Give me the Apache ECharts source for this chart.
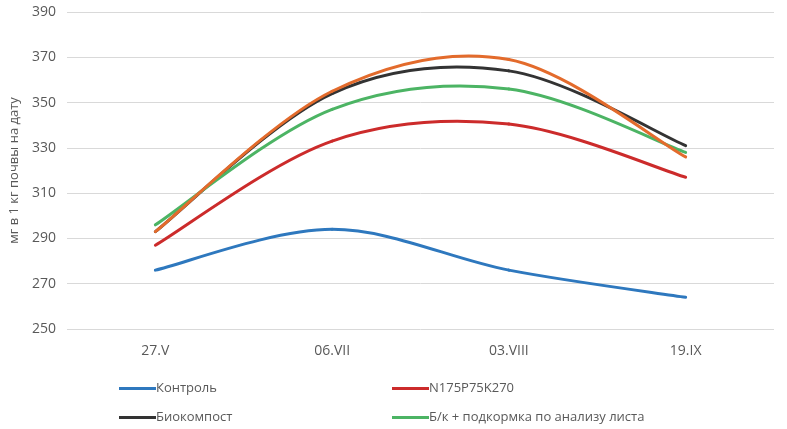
<!DOCTYPE html>
<html><head><meta charset="utf-8">
<script src="https://cdn.jsdelivr.net/npm/echarts@6/dist/echarts.min.js"></script>
<style>html,body{margin:0;padding:0;background:#fff}#c{width:787px;height:429px}</style>
</head><body><div id="c"></div>
<script>
var categories = ['27.V', '06.VII', '03.VIII', '19.IX'];
var yTicks = [250, 270, 290, 310, 330, 350, 370, 390];
var control = [276, 294, 276, 264];
var npk = [287, 333, 340.5, 317];
var biocompost = [293, 354, 364, 331];
var bkFeed = [296, 347, 356, 328];
var extra = [293, 355, 369, 326];

var names = ['Контроль', 'N175P75K270', 'Биокомпост', 'Б/к + подкормка по анализу листа'];
var colors = ['#2E78BE', '#CC2B2B', '#333333', '#4CB464', '#E36B2C'];
var font = '"Open Sans", sans-serif';

// Excel-like smoothed line (Catmull-Rom through the data points, positioned by the axes)
function curve(name, values, color, z) {
  return {
    name: name, type: 'custom', coordinateSystem: 'cartesian2d', z: z,
    itemStyle: { color: color },
    data: values.map(function (v, i) { return [i, v]; }),
    encode: { x: 0, y: 1 },
    renderItem: function (params, api) {
      if (params.dataIndex !== 0) return null;
      var p = values.map(function (v, i) { return api.coord([i, v]); });
      var n = p.length, children = [];
      for (var i = 0; i < n - 1; i++) {
        var p0 = p[Math.max(i - 1, 0)], p1 = p[i], p2 = p[i + 1], p3 = p[Math.min(i + 2, n - 1)];
        children.push({
          type: 'bezierCurve',
          shape: {
            x1: p1[0], y1: p1[1], x2: p2[0], y2: p2[1],
            cpx1: p1[0] + (p2[0] - p0[0]) / 6, cpy1: p1[1] + (p2[1] - p0[1]) / 6,
            cpx2: p2[0] - (p3[0] - p1[0]) / 6, cpy2: p2[1] - (p3[1] - p1[1]) / 6
          },
          style: { stroke: color, lineWidth: 3, fill: null, lineCap: 'round' }
        });
      }
      return { type: 'group', children: children };
    }
  };
}
var chart = echarts.init(document.getElementById('c'));
var legendPos = [[114, 377], [387, 377], [114, 406], [387, 406]];
chart.setOption({
  animation: false,
  grid: { left: 66, right: 13, top: 12, bottom: 100 },
  legend: names.map(function (n, i) {
    return { data: [{ name: n, itemStyle: { color: colors[i] } }], left: legendPos[i][0], top: legendPos[i][1],
      icon: 'rect', itemWidth: 37, itemHeight: 3, itemGap: 0,
      textStyle: { color: '#595959', fontSize: 13, fontFamily: font, padding: [0, 0, 0, -5] } };
  }),
  xAxis: { type: 'category', data: categories, boundaryGap: true,
    axisLine: { show: false }, axisTick: { show: false },
    axisLabel: { color: '#595959', fontSize: 14, fontFamily: font, margin: 15 } },
  yAxis: { type: 'value', min: yTicks[0], max: yTicks[yTicks.length - 1], interval: 20,
    name: 'мг в 1 кг почвы на дату', nameLocation: 'middle', nameGap: 46, nameRotate: 90,
    nameTextStyle: { color: '#595959', fontSize: 13, fontFamily: font },
    axisLine: { show: false }, axisTick: { show: false },
    axisLabel: { color: '#595959', fontSize: 14, fontFamily: font, margin: 11 },
    splitLine: { lineStyle: { color: '#D9D9D9', width: 1 } } },
  series: [
    curve(names[0], control, colors[0], 2),
    curve(names[1], npk, colors[1], 2),
    curve(names[2], biocompost, colors[2], 2),
    curve(names[3], bkFeed, colors[3], 2),
    curve('extra', extra, colors[4], 3)
  ]
});
</script></body></html>
